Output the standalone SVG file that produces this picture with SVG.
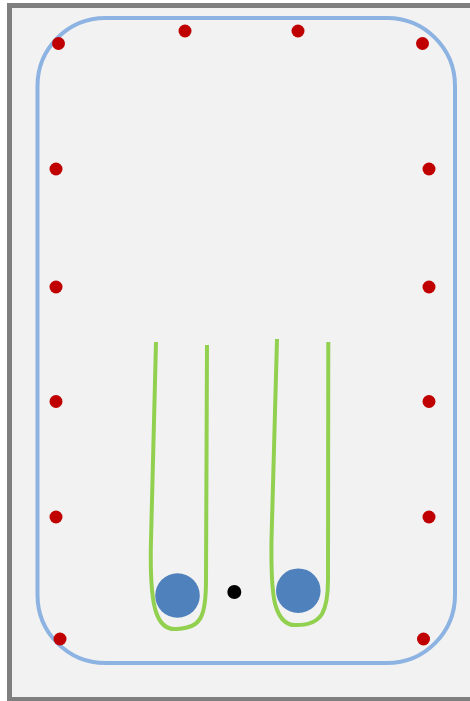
<svg xmlns="http://www.w3.org/2000/svg" width="470" height="701" viewBox="0 0 470 701">
<style>
.frame{fill:#f2f2f2;stroke:#7f7f7f;stroke-width:5}
.track{fill:none;stroke:#8db3e2;stroke-width:4}
.red{fill:#c00000}
.u{fill:none;stroke:#92d050;stroke-width:4;stroke-linecap:butt;stroke-linejoin:round}
.ball{fill:#4f81bd}
</style>
<rect width="470" height="701" fill="#ffffff"/>
<rect class="frame" x="9.5" y="5.5" width="470" height="694"/>
<rect id="track" class="track" x="37.5" y="18" width="417.5" height="645" rx="68" ry="68"/>
<g id="dots">
<circle class="red" cx="58.5" cy="43.5" r="6.5"/>
<circle class="red" cx="185" cy="31" r="6.5"/>
<circle class="red" cx="298" cy="31" r="6.5"/>
<circle class="red" cx="422.5" cy="43.5" r="6.5"/>
<circle class="red" cx="56" cy="169" r="6.5"/>
<circle class="red" cx="56" cy="287" r="6.5"/>
<circle class="red" cx="56" cy="401.5" r="6.5"/>
<circle class="red" cx="56" cy="517" r="6.5"/>
<circle class="red" cx="429" cy="169" r="6.5"/>
<circle class="red" cx="429" cy="287" r="6.5"/>
<circle class="red" cx="429" cy="401.5" r="6.5"/>
<circle class="red" cx="429" cy="517" r="6.5"/>
<circle class="red" cx="60" cy="639" r="6.5"/>
<circle class="red" cx="423.5" cy="639" r="6.5"/>
</g>
<g id="u-left">
<path class="u" d="M156,342 L151,540 C150,580 152,600 156,612 C160,624 167,630 177,629 C190,628 197,625 201,617 C205.5,608 206,595 206,580 L207,345"/>
</g>
<g id="u-right">
<path class="u" d="M277,339 L271.5,540 C271,575 272,595 276,607 C280,619 287,626 297,625 C309,625 317,622 322,614 C327,605 328,595 328,580 L328.3,342"/>
</g>
<g id="ball-left"><circle class="ball" cx="177.5" cy="595.5" r="22.3"/></g>
<g id="ball-right"><circle class="ball" cx="298.3" cy="590.7" r="22.3"/></g>
<g id="center"><circle cx="234.3" cy="592" r="7" fill="#000000"/></g>
</svg>
